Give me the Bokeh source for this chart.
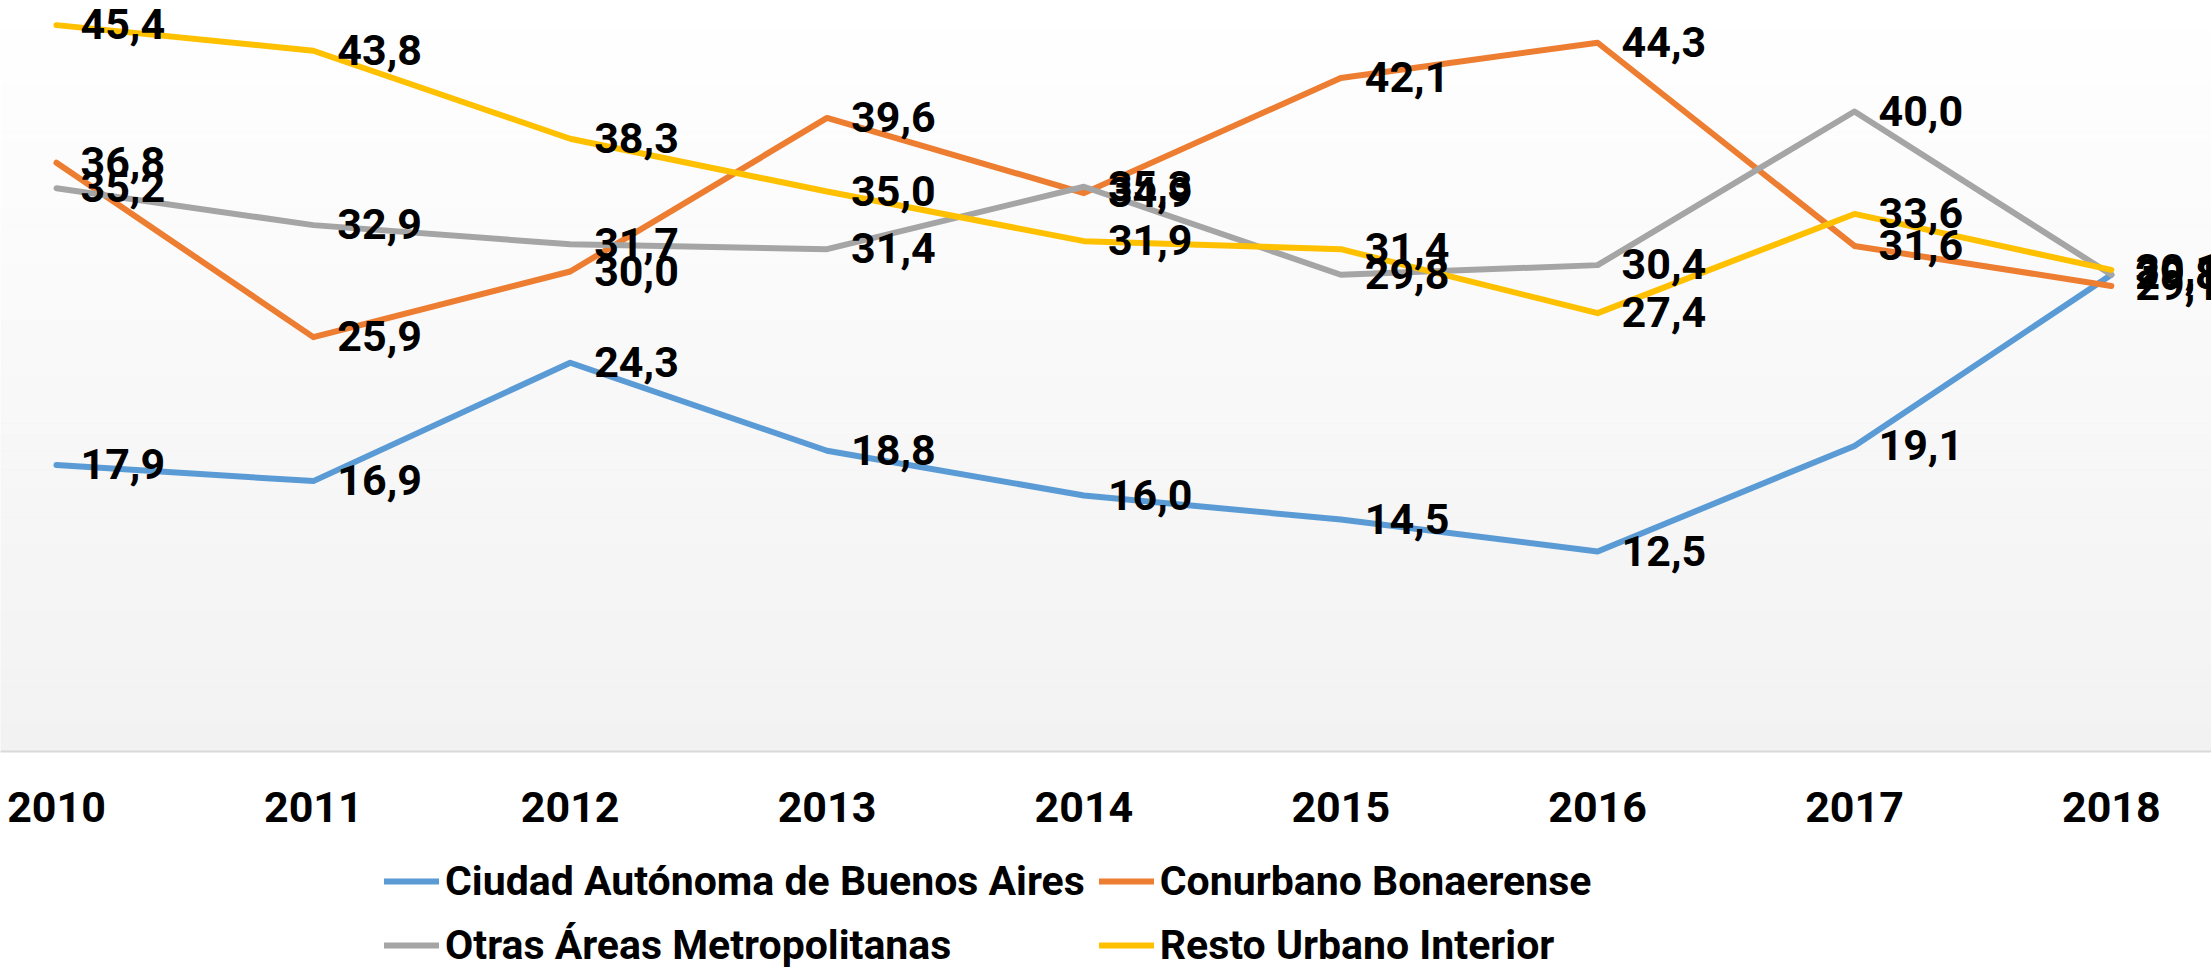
from bokeh.plotting import figure
from bokeh.models import Legend, LegendItem, FixedTicker
from bokeh.layouts import column
from bokeh.embed import file_html
from bokeh.resources import INLINE
from bokeh.core.properties import value

# ---- data ----
years = [2010, 2011, 2012, 2013, 2014, 2015, 2016, 2017, 2018]
year_labels = ["2010", "2011", "2012", "2013", "2014", "2015", "2016", "2017", "2018"]

series_names = [
    "Ciudad Autónoma de Buenos Aires",
    "Conurbano Bonaerense",
    "Otras Áreas Metropolitanas",
    "Resto Urbano Interior",
]
ciudad = [17.9, 16.9, 24.3, 18.8, 16.0, 14.5, 12.5, 19.1, 29.8]
conurbano = [36.8, 25.9, 30.0, 39.6, 34.9, 42.1, 44.3, 31.6, 29.1]
otras = [35.2, 32.9, 31.7, 31.4, 35.3, 29.8, 30.4, 40.0, 29.8]
resto = [45.4, 43.8, 38.3, 35.0, 31.9, 31.4, 27.4, 33.6, 30.1]

series_values = [ciudad, conurbano, otras, resto]
series_colors = ["#5B9BD5", "#ED7D31", "#A5A5A5", "#FFC000"]

FONT = "Roboto"

X0, X1 = 2009.782, 2018.390
Y0, Y1 = 0.0, 46.94

# ---------------- main chart ----------------
p = figure(
    frame_width=2211, frame_height=751,
    x_range=(X0, X1), y_range=(Y0, Y1),
    output_backend="svg", toolbar_location=None,
    y_axis_location=None,
    min_border_left=0, min_border_right=0, min_border_top=0, min_border_bottom=105,
)
p.outline_line_color = None
p.xgrid.grid_line_color = None
p.ygrid.grid_line_color = None
p.background_fill_color = "white"
p.border_fill_color = "white"

# gradient background of the plot area (white at top -> light gray at bottom)
n = 80
def mix(t):
    c0 = (0xF2, 0xF2, 0xF2)
    c1 = (0xFF, 0xFF, 0xFF)
    r = [round(a + (b - a) * t) for a, b in zip(c0, c1)]
    return "#%02x%02x%02x" % tuple(r)
h = (Y1 - Y0) / n
bottoms = [Y0 + i * h for i in range(n)]
tops = [b + h * 1.02 for b in bottoms]
cols = [mix((i + 0.5) / n) for i in range(n)]
p.quad(left=[X0] * n, right=[X1] * n, bottom=bottoms, top=tops,
       fill_color=cols, line_color=cols, line_width=0.5)

for vals, col in zip(series_values, series_colors):
    p.line(years, vals, line_color=col, line_width=6, line_join="round", line_cap="round")

for vals in series_values:
    labels = [f"{v:.1f}".replace(".", ",") for v in vals]
    p.text(x=years, y=vals, text=labels, x_offset=24, y_offset=-1,
           text_font=value(FONT), text_font_size="43px", text_font_style="bold",
           text_baseline="middle", text_align="left", text_color="black")

ax = p.xaxis[0]
ax.ticker = FixedTicker(ticks=years)
ax.major_label_overrides = {y: l for y, l in zip(years, year_labels)}
ax.axis_line_color = "#D9D9D9"
ax.axis_line_width = 2
ax.major_tick_line_color = None
ax.minor_tick_line_color = None
ax.major_tick_out = 0
ax.major_tick_in = 0
ax.major_label_standoff = 40
ax.major_label_text_font = FONT
ax.major_label_text_font_size = "43px"
ax.major_label_text_font_style = "bold"
ax.major_label_text_color = "black"

# ---------------- legend strip ----------------
q = figure(
    frame_width=2211, frame_height=114,
    x_range=(0, 1), y_range=(0, 1),
    output_backend="svg", toolbar_location=None,
    x_axis_location=None, y_axis_location=None,
    min_border_left=0, min_border_right=0, min_border_top=0, min_border_bottom=0,
)
q.outline_line_color = None
q.xgrid.grid_line_color = None
q.ygrid.grid_line_color = None
q.background_fill_color = "white"
q.border_fill_color = "white"

# the series drawn again (outside this strip's visible range) only to feed the legend
legend_renderers = [
    q.line(x=years, y=vals, line_color=col, line_width=6, line_cap="round")
    for vals, col in zip(series_values, series_colors)
]
items = [LegendItem(label=value(nm), renderers=[r]) for nm, r in zip(series_names, legend_renderers)]
legend = Legend(
    items=items, orientation="horizontal", ncols=2,
    location=(384, 0),
    label_text_font=FONT, label_text_font_size="41px", label_text_font_style="bold",
    label_text_color="black",
    glyph_width=55, glyph_height=20, label_standoff=6, spacing=14,
    label_height=50,
    padding=0, margin=0, border_line_color=None, background_fill_alpha=0,
)
q.add_layout(legend, "center")

layout = column(p, q, spacing=0)
open("out.html", "w").write(file_html(layout, INLINE))
